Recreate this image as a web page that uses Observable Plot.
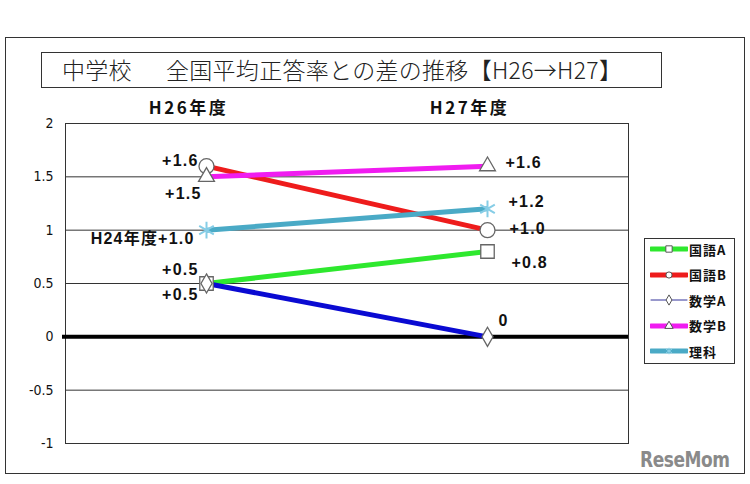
<!DOCTYPE html>
<html>
<head>
<meta charset="utf-8">
<script src="https://cdn.jsdelivr.net/npm/d3@7"></script>
<script src="https://cdn.jsdelivr.net/npm/@observablehq/plot@0.6"></script>
<style>
  html, body { margin: 0; padding: 0; background: #fff; }
  #wrap { position: relative; width: 750px; height: 484px; overflow: hidden; background: #fff; }
  #outer { position: absolute; left: 5px; top: 37px; width: 740px; height: 437px; box-sizing: border-box; border: 1px solid #333; }
  #title { position: absolute; left: 41px; top: 52px; width: 621px; height: 36px; box-sizing: border-box; border: 1px solid #333;
           font-family: "Noto Sans CJK JP", sans-serif; font-size: 23px; font-weight: 300; color: #222; line-height: 32px; padding-left: 20px; white-space: pre; letter-spacing: 0.3px; }
  #chart { position: absolute; left: 0; top: 90px; }
  #chart g[aria-label="y-axis tick label"] { font-family: "Liberation Sans Narrow", "DejaVu Sans", sans-serif; font-stretch: condensed; }
  #chart g[aria-label="x-axis tick label"] text { letter-spacing: 2.5px; }
  #chart g[aria-label="text"] text { letter-spacing: 1.2px; }
  #legend { position: absolute; left: 644px; top: 238px; width: 91px; height: 126px; box-sizing: border-box; border: 1px solid #333; background: #fff; }
  .lrow { position: absolute; left: 5px; height: 16px; display: flex; align-items: center;
          font-family: "Noto Sans CJK JP", sans-serif; font-size: 13px; font-weight: bold; color: #111; letter-spacing: 1px; }
  .lrow svg { display: block; margin-right: 1px; }
  #mark { position: absolute; left: 640px; top: 448px; font-family: "DejaVu Sans", sans-serif; font-stretch: condensed;
          font-weight: bold; font-size: 21px; color: #8a8a8a; letter-spacing: -0.5px; transform-origin: left top; transform: scaleX(0.9); }
</style>
</head>
<body>
<div id="wrap">
  <div id="outer"></div>
  <div id="title"></div>
  <div id="chart"></div>
  <div id="legend"></div>
  <div id="mark">ReseMom</div>
</div>
<script>
// ---- data ----
const titleText = "中学校\u3000  全国平均正答率との差の推移【H26→H27】";
const years = ["H26年度", "H27年度"];
const subjects = ["国語A", "国語B", "数学A", "数学B", "理科"];
const valuesH26 = [0.5, 1.6, 0.5, 1.5, 1.0];
const valuesH27 = [0.8, 1.0, 0.0, 1.6, 1.2];
const labelsH26 = ["+0.5", "+1.6", "+0.5", "+1.5", "H24年度+1.0"];
const labelsH27 = ["+0.8", "+1.0", "0", "+1.6", "+1.2"];
const yTicks = [-1, -0.5, 0, 0.5, 1, 1.5, 2];
const gridValues = [1.5, 1, 0.5, -0.5];

// ---- styles ----
const colors = ["#2ee82e", "#ee1c1c", "#0a0ad2", "#f01cf0", "#4aaac6"];
const legendColors = ["#2ee82e", "#ee1c1c", "#333399", "#f01cf0", "#4aaac6"];
const legendWidths = [5, 5, 1, 5, 5];
const symbols = ["square", "circle", "diamond", "triangle", "asterisk"];
const symbolRadii = [7.6, 7.5, 5.8, 5.9, 8];
const offsetsH26 = [[-8, -14], [-8, -5], [-8, 11], [-5, 17], [-12, 9]];
const offsetsH27 = [[24, 11], [22, -1], [11, -16], [18, -3], [21, -7]];

document.getElementById("title").textContent = titleText;

const rows = [];
subjects.forEach((s, i) => {
  rows.push({subject: s, year: years[0], value: valuesH26[i], label: labelsH26[i], off: offsetsH26[i], anchor: "end"});
  rows.push({subject: s, year: years[1], value: valuesH27[i], label: labelsH27[i], off: offsetsH27[i], anchor: "start"});
});

const labelFont = "'Liberation Sans', Arial, sans-serif";

const chart = Plot.plot({
  width: 750,
  height: 370,
  marginLeft: 65,
  marginRight: 122,
  marginTop: 33,
  marginBottom: 17,
  x: {type: "point", domain: years, padding: 0.5},
  y: {domain: [-1, 2]},
  color: {domain: subjects, range: colors},
  symbol: {domain: subjects, range: symbols},
  style: {fontFamily: labelFont, background: "transparent", overflow: "visible"},
  marks: [
    Plot.ruleY(gridValues, {stroke: "#333", strokeWidth: 1}),
    Plot.frame({stroke: "#333", strokeWidth: 1}),
    Plot.axisY({ticks: yTicks, tickSize: 0, tickPadding: 12, tickFormat: d => String(d), label: null,
                fontSize: 14, fill: "#111"}),
    Plot.axisX({anchor: "top", tickSize: 0, tickPadding: 10, label: null, dx: -18,
                fontSize: 17, fontWeight: "bold", fontFamily: "'Noto Sans CJK JP', sans-serif", fill: "#111"}),
    Plot.ruleY([0], {stroke: "#000", strokeWidth: 4, insetLeft: -3}),
    ...subjects.map(s => Plot.line(rows.filter(r => r.subject === s),
      {x: "year", y: "value", stroke: "subject", strokeWidth: 5, strokeLinecap: "butt"})),
    ...subjects.map((s, i) => Plot.dot(rows.filter(r => r.subject === s),
      {x: "year", y: "value", symbol: "subject", r: symbolRadii[i],
       fill: symbols[i] === "asterisk" ? "none" : "#fff",
       stroke: symbols[i] === "asterisk" ? "#86cde6" : "#666",
       strokeWidth: symbols[i] === "asterisk" ? 2 : 1.3})),
    ...rows.map(r => Plot.text([r], {x: "year", y: "value", text: "label", textAnchor: r.anchor,
       dx: r.off[0], dy: r.off[1], fontSize: 16, fontWeight: "bold", fill: "#111",
       fontFamily: "'Liberation Sans', 'Noto Sans CJK JP', sans-serif"}))
  ]
});
document.getElementById("chart").appendChild(chart);

// ---- legend ----
const legend = d3.select("#legend");
subjects.forEach((s, i) => {
  const row = legend.append("div").attr("class", "lrow").style("top", (2 + i * 25.5) + "px");
  const svg = row.append("svg").attr("width", 38).attr("height", 16);
  svg.append("line").attr("x1", 1).attr("x2", 37).attr("y1", 8).attr("y2", 8)
     .attr("stroke", legendColors[i]).attr("stroke-width", legendWidths[i]).attr("stroke-linecap", "round");
  const symMap = {square: d3.symbolSquare, circle: d3.symbolCircle, diamond: d3.symbolDiamond, triangle: d3.symbolTriangle, asterisk: d3.symbolAsterisk};
  if (symbols[i] !== "asterisk") {
    svg.append("path").attr("transform", "translate(19,8)")
       .attr("d", d3.symbol(symMap[symbols[i]], symbols[i] === "square" ? 40 : 30)())
       .attr("fill", "#fff").attr("stroke", "#555").attr("stroke-width", 1);
  } else {
    svg.append("path").attr("transform", "translate(19,8)")
       .attr("d", d3.symbol(d3.symbolAsterisk, 30)())
       .attr("fill", "none").attr("stroke", "#8fd3ea").attr("stroke-width", 1);
  }
  row.append("span").text(s);
});
</script>
</body>
</html>
